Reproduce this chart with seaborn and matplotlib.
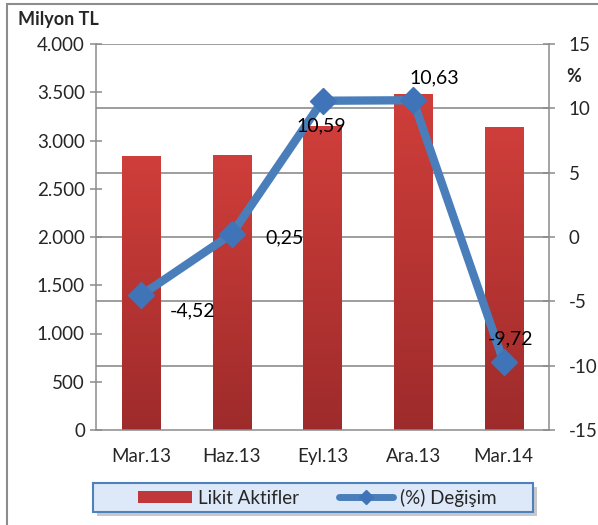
import numpy as np
import pandas as pd
import matplotlib
matplotlib.use('Agg')
import matplotlib.pyplot as plt
import seaborn as sns
from matplotlib.colors import LinearSegmentedColormap
from matplotlib.patches import Rectangle, Patch
from matplotlib.lines import Line2D
from matplotlib.ticker import FuncFormatter, FixedLocator

# veriler
donemler = ['Mar.13', 'Haz.13', 'Eyl.13', 'Ara.13', 'Mar.14']
likit_aktifler = [2833, 2840, 3141, 3475, 3137]
degisim = [-4.52, 0.25, 10.59, 10.63, -9.72]
degisim_etiket = ['-4,52', '0,25', '10,59', '10,63', '-9,72']
etiket_offset = [(37, -11), (38, -3), (-1, -18), (15, 16), (5, 17)]

sns.set_style('white')
plt.rcParams['font.family'] = ['Lato', 'DejaVu Sans']
plt.rcParams['axes.unicode_minus'] = False

kirmizi = '#c0373a'
mavi = '#4a7ebb'
gri = '#8c8c8c'
fs = 13.5

fig = plt.figure(figsize=(5.98, 5.25), dpi=100)
ax = fig.add_axes([96 / 598, 1 - 430 / 525, 453 / 598, 386 / 525])

df = pd.DataFrame({'donem': donemler, 'deger': likit_aktifler})
sns.barplot(data=df, x='donem', y='deger', color=kirmizi, width=0.42,
            saturation=1, ax=ax, zorder=2)

# bar gradyan
cmap = LinearSegmentedColormap.from_list('bar', ['#9e2b2b', '#cf3e3a'])
grad = np.linspace(0, 1, 128).reshape(-1, 1)
for p in ax.patches:
    x0, y0 = p.get_x(), p.get_y()
    w, h = p.get_width(), p.get_height()
    ax.imshow(grad, extent=[x0, x0 + w, y0, y0 + h], origin='lower',
              aspect='auto', cmap=cmap, zorder=2)
    p.set_visible(False)

ax.set_xlim(-0.5, len(donemler) - 0.5)
ax.set_ylim(0, 4000)
ax.set_yticks(np.arange(0, 4001, 500))
ax.yaxis.set_major_formatter(FuncFormatter(lambda v, _: f'{v:,.0f}'.replace(',', '.')))
ax.set_xlabel('')
ax.set_ylabel('')

# kilavuz cizgileri sag eksene gore
for k in range(1, 7):
    ax.axhline(4000 * k / 6, color=gri, lw=1.2, zorder=0.5)

ax.xaxis.set_minor_locator(FixedLocator(np.arange(-0.5, len(donemler), 1)))
ax.tick_params(axis='x', which='major', length=0, labelsize=fs, pad=13)
ax.tick_params(axis='x', which='minor', direction='inout', length=9, width=1.1, color=gri)
ax.tick_params(axis='y', direction='inout', length=8, width=1.1, color=gri,
               labelsize=fs, pad=4)
for s in ['left', 'bottom']:
    ax.spines[s].set_color(gri)
    ax.spines[s].set_linewidth(1.1)
ax.spines['top'].set_visible(False)
ax.spines['right'].set_visible(False)

ax2 = ax.twinx()
ax2.plot(range(len(donemler)), degisim, color=mavi, lw=6, marker='D',
         markersize=13, markerfacecolor='#3f74b8', markeredgecolor='#3f74b8',
         solid_capstyle='round', zorder=3)
ax2.set_ylim(-15, 15)
ax2.set_yticks(np.arange(-15, 16, 5))
ax2.tick_params(axis='y', direction='inout', length=8, width=1.1, color=gri,
                labelsize=fs, pad=10)
for s in ['left', 'top', 'bottom']:
    ax2.spines[s].set_visible(False)
ax2.spines['right'].set_color(gri)
ax2.spines['right'].set_linewidth(1.1)

for i, (v, t) in enumerate(zip(degisim, degisim_etiket)):
    ax2.annotate(t, (i, v), xytext=etiket_offset[i], textcoords='offset points',
                 ha='center', va='center', fontsize=fs + 0.5, color='black', zorder=4)

fig.text(18 / 598, 1 - 20 / 525, 'Milyon TL', fontsize=13, fontweight='bold',
         ha='left', va='center')
fig.text(574 / 598, 1 - 76 / 525, '%', fontsize=13, fontweight='bold',
         ha='center', va='center')

# dis cerceve
fig.patches.append(Rectangle((7 / 598, -0.01), 1.0, 1 - 4 / 525 + 0.01,
                             transform=fig.transFigure, fill=False,
                             edgecolor=gri, lw=1.5))

# lejant kutusu
kx, ky, kw, kh = 93 / 598, 1 - 512 / 525, 440 / 598, 29 / 525
fig.patches.append(Rectangle((kx + 0.006, ky - 0.008), kw, kh, transform=fig.transFigure,
                             facecolor='#c8c8c8', edgecolor='none', zorder=0))
fig.patches.append(Rectangle((kx, ky), kw, kh, transform=fig.transFigure,
                             facecolor='#dde8f8', edgecolor='#4f81bd', lw=1.5, zorder=1))

handles = [Patch(facecolor=kirmizi, edgecolor='none'),
           Line2D([], [], color=mavi, lw=5, marker='D', markersize=7,
                  markerfacecolor='#3f74b8', markeredgecolor='#3f74b8',
                  solid_capstyle='round')]
leg = fig.legend(handles, ['Likit Aktifler', '(%) Değişim'], loc='center',
                 bbox_to_anchor=(317 / 598, 1 - 497.5 / 525),
                 ncol=2, fontsize=fs, frameon=False, handlelength=2.9,
                 handleheight=0.6, columnspacing=2.1, handletextpad=0.35,
                 borderpad=0.1)

fig.savefig('out.png', dpi=100)
